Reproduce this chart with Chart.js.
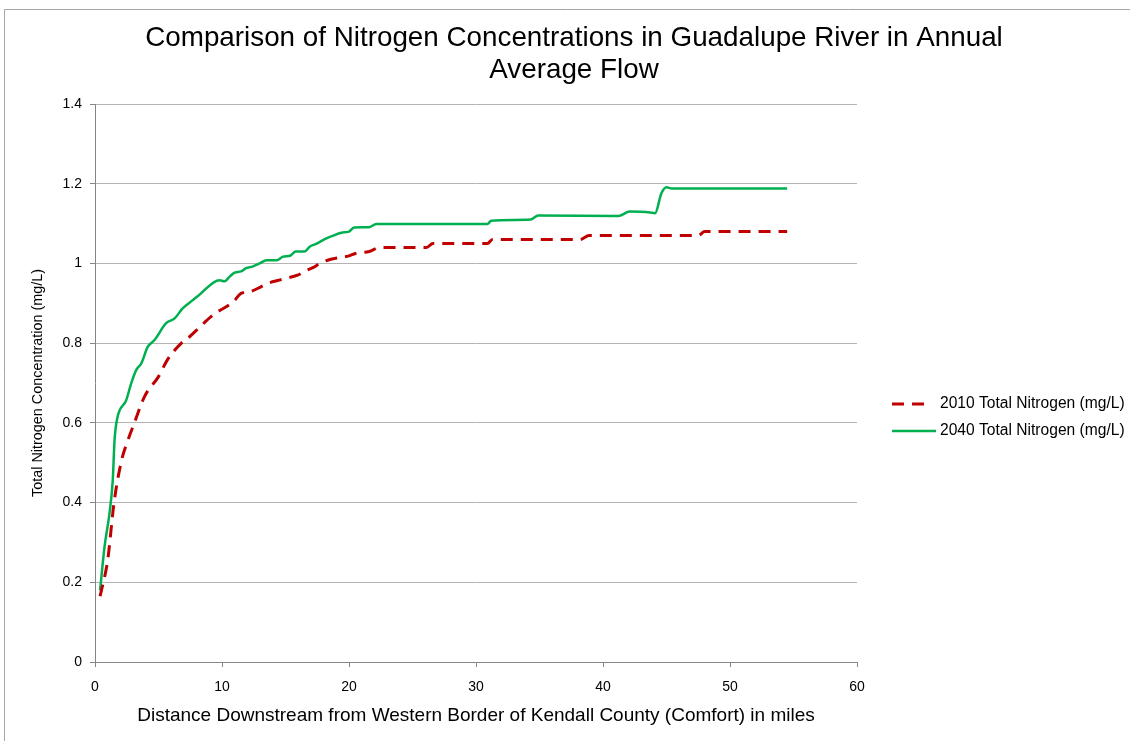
<!DOCTYPE html>
<html>
<head>
<meta charset="utf-8">
<script src="https://cdn.jsdelivr.net/npm/chart.js@4/dist/chart.umd.min.js"></script>
<style>
  html, body { margin: 0; padding: 0; background: #fff; }
  #chartBox { width: 1130px; height: 741px; }
</style>
</head>
<body>
<div id="chartBox">
  <canvas id="nitrogenCanvas" width="1130" height="741"></canvas>
</div>
<script>
// chart text
const chartTitle = [
  'Comparison of Nitrogen Concentrations in Guadalupe River in Annual',
  'Average Flow',
];
const xAxisTitle = 'Distance Downstream from Western Border of Kendall County (Comfort) in miles';
const yAxisTitle = 'Total Nitrogen Concentration (mg/L)';
const seriesLabels = ['2010 Total Nitrogen (mg/L)', '2040 Total Nitrogen (mg/L)'];

// tick values
const xTicks = [0, 10, 20, 30, 40, 50, 60];
const yTicks = [0, 0.2, 0.4, 0.6, 0.8, 1, 1.2, 1.4];

// 2010 series, miles downstream / mg/L
const miles2010 = [
  0.4, 1.0, 1.5, 2.1, 2.6, 3.1, 3.9, 5.0, 5.7, 6.8, 7.3, 8.4, 9.3, 10.9,
  11.5, 12.2, 13.1, 13.6, 14.5, 15.1, 16.0, 16.6, 17.2, 17.7, 18.5, 20.0,
  20.5, 21.6, 22.4, 26.1, 26.6, 30.9, 31.3, 38.2, 38.9, 47.5, 48.0, 54.5,
];
const nitrogen2010 = [
  0.165, 0.256, 0.4, 0.507, 0.557, 0.6, 0.666, 0.716, 0.758, 0.8, 0.812,
  0.845, 0.871, 0.904, 0.925, 0.929, 0.942, 0.95, 0.958, 0.963, 0.971,
  0.982, 0.99, 1.0, 1.01, 1.019, 1.025, 1.03, 1.04, 1.04, 1.05, 1.05,
  1.06, 1.06, 1.07, 1.07, 1.08, 1.08,
];

// 2040 series, miles downstream / mg/L
const miles2040 = [
  0.4, 0.75, 1.14, 1.4, 1.54, 1.75, 2.46, 2.85, 3.25, 3.64, 4.16, 4.69,
  5.6, 6.27, 6.9, 7.7, 8.2, 9.8, 10.2, 10.6, 11.0, 11.5, 11.9, 12.4,
  12.96, 13.5, 14.3, 14.8, 15.4, 15.8, 16.5, 16.9, 17.4, 18.1, 18.7, 19.4,
  20.0, 20.4, 21.6, 22.16, 30.9, 31.2, 34.3, 34.9, 41.2, 42.1, 43.7, 44.1,
  44.6, 45.0, 45.4, 54.5,
];
const nitrogen2040 = [
  0.18, 0.289, 0.373, 0.457, 0.557, 0.611, 0.657, 0.699, 0.733, 0.749,
  0.791, 0.808, 0.85, 0.862, 0.887, 0.908, 0.921, 0.958, 0.955, 0.967,
  0.977, 0.98, 0.988, 0.992, 1.0, 1.008, 1.008, 1.017, 1.02, 1.03, 1.03,
  1.042, 1.049, 1.061, 1.069, 1.077, 1.08, 1.09, 1.091, 1.099, 1.099,
  1.107, 1.11, 1.12, 1.119, 1.13, 1.128, 1.126, 1.176, 1.191, 1.188, 1.188,
];

const FONT = "'Liberation Sans', Arial, sans-serif";
const AXIS_GREY = '#868686';
const GRID_GREY = '#b4b4b4';

const toPoints = (xs = [], ys = []) => xs.map((x, i) => ({ x, y: ys[i] }));

/**
 * Title, outer frame and the legend on the right, drawn by hand
 */
const decorations = {
  id: 'decorations',
  beforeDraw(chart) {
    const { ctx, width, height } = chart;
    ctx.save();
    ctx.fillStyle = '#fff';
    ctx.fillRect(0, 0, width, height);
    ctx.strokeStyle = '#a6a6a6';
    ctx.lineWidth = 1;
    ctx.beginPath();
    ctx.moveTo(4.5, height);
    ctx.lineTo(4.5, 9.5);
    ctx.lineTo(width, 9.5);
    ctx.stroke();
    ctx.restore();
  },
  afterDraw(chart) {
    const { ctx } = chart;
    ctx.save();

    // title
    ctx.fillStyle = '#000';
    ctx.font = `27.8px ${FONT}`;
    ctx.textAlign = 'center';
    ctx.textBaseline = 'middle';
    chartTitle.forEach((line, i) => ctx.fillText(line, 574, 38 + i * 32));

    // legend
    ctx.font = `15.6px ${FONT}`;
    ctx.textAlign = 'left';
    chart.data.datasets.forEach((ds, i) => {
      const y = 404 + i * 27;
      ctx.strokeStyle = ds.borderColor;
      ctx.lineWidth = ds.borderWidth;
      ctx.setLineDash(ds.borderDash || []);
      ctx.beginPath();
      ctx.moveTo(892, y);
      ctx.lineTo(ds.borderDash ? 924 : 936, y);
      ctx.stroke();
      ctx.setLineDash([]);
      ctx.fillStyle = '#000';
      ctx.fillText(ds.label, 940, y);
    });

    ctx.restore();
  },
};

const ctx = document.getElementById('nitrogenCanvas').getContext('2d');

window.NitrogenChart = new Chart(ctx, {
  type: 'line',
  data: {
    datasets: [
      {
        label: seriesLabels[0],
        data: toPoints(miles2010, nitrogen2010),
        borderColor: '#c00000',
        borderWidth: 3,
        borderDash: [12, 8],
        cubicInterpolationMode: 'monotone',
        pointRadius: 0,
        fill: false,
      },
      {
        label: seriesLabels[1],
        data: toPoints(miles2040, nitrogen2040),
        borderColor: '#00b050',
        borderWidth: 2.5,
        cubicInterpolationMode: 'monotone',
        pointRadius: 0,
        fill: false,
      },
    ],
  },
  options: {
    responsive: false,
    animation: false,
    layout: { padding: { top: 104, right: 273, bottom: 0, left: 0 } },
    plugins: {
      legend: { display: false },
      title: { display: false },
      tooltip: { enabled: false },
    },
    scales: {
      x: {
        type: 'linear',
        min: xTicks[0],
        max: xTicks[xTicks.length - 1],
        afterBuildTicks(scale) {
          scale.ticks = xTicks.map(value => ({ value }));
        },
        afterFit(scale) {
          scale.height = 79;
        },
        border: { color: AXIS_GREY, width: 1 },
        grid: {
          drawOnChartArea: false,
          drawTicks: true,
          tickLength: 5,
          tickColor: AXIS_GREY,
        },
        ticks: {
          color: '#000',
          padding: 12,
          maxRotation: 0,
          font: { family: FONT, size: 14 },
        },
        title: {
          display: true,
          text: xAxisTitle,
          color: '#000',
          padding: { top: 0, bottom: 14 },
          font: { family: FONT, size: 19 },
        },
      },
      y: {
        type: 'linear',
        min: yTicks[0],
        max: yTicks[yTicks.length - 1],
        afterBuildTicks(scale) {
          scale.ticks = yTicks.map(value => ({ value }));
        },
        afterFit(scale) {
          scale.width = 95;
        },
        border: { color: AXIS_GREY, width: 1 },
        grid: {
          color: GRID_GREY,
          lineWidth: 1,
          tickLength: 5,
          tickColor: AXIS_GREY,
        },
        ticks: {
          color: '#000',
          padding: 8,
          font: { family: FONT, size: 14 },
          callback: value => String(+value.toFixed(1)),
        },
        title: {
          display: true,
          text: yAxisTitle,
          color: '#000',
          padding: { top: 29, bottom: 0 },
          font: { family: FONT, size: 14.4 },
        },
      },
    },
  },
  plugins: [decorations],
});
</script>
</body>
</html>
